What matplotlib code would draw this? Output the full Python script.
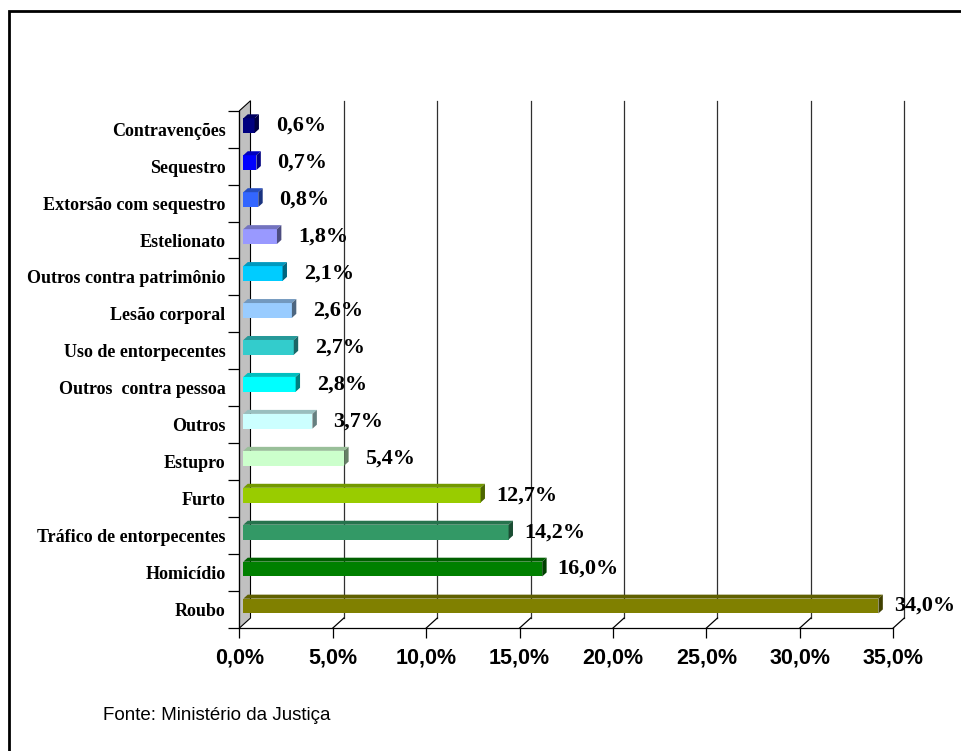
import numpy as np
import matplotlib.pyplot as plt
from matplotlib.patches import Polygon, Rectangle
from matplotlib.colors import to_rgb

# dados (de baixo para cima)
categorias = ['Roubo', 'Homicídio', 'Tráfico de entorpecentes', 'Furto', 'Estupro',
              'Outros', 'Outros  contra pessoa', 'Uso de entorpecentes', 'Lesão corporal',
              'Outros contra patrimônio', 'Estelionato', 'Extorsão com sequestro',
              'Sequestro', 'Contravenções']
valores = [34.0, 16.0, 14.2, 12.7, 5.4, 3.7, 2.8, 2.7, 2.6, 2.1, 1.8, 0.8, 0.7, 0.6]
cores = ['#808000', '#008000', '#339966', '#99CC00', '#CCFFCC', '#CCFFFF', '#00FFFF',
         '#33CCCC', '#99CCFF', '#00CCFF', '#9999FF', '#3366FF', '#0000FF', '#000080']
ticks_x = np.arange(0, 36, 5)
fonte = 'Fonte: Ministério da Justiça'

# profundidade 3D (em unidades dos dados)
DX, DY = 0.59, 0.27
F1, F2 = 0.35, 0.75
ALT = 0.40

def escurece(c, f):
    r, g, b = to_rgb(c)
    return (r * f, g * f, b * f)

fig = plt.figure(figsize=(9.61, 7.51), dpi=100)
ax = fig.add_axes([0.2492, 0.1638, 0.6803, 0.6888])
n = len(categorias)
ax.set_xlim(0, 35)
ax.set_ylim(-0.5, n - 0.5)

# moldura externa
fig.patches.append(Rectangle((9 / 961, -0.1), 1.2, 1 - 11 / 751 + 0.1, transform=fig.transFigure,
                             fill=False, edgecolor='black', linewidth=2))

# parede lateral
y0, y1 = -0.5, n - 0.5
ax.add_patch(Polygon([(0, y0), (DX, y0 + DY), (DX, y1 + DY), (0, y1)], closed=True,
                     facecolor='#c0c0c0', edgecolor='black', linewidth=0.8,
                     clip_on=False, zorder=1))

# grade do fundo e do chao
for v in ticks_x[1:]:
    ax.plot([v + DX, v + DX], [y0 + DY, y1 + DY], color='#303030', lw=0.9,
            clip_on=False, zorder=1)
    ax.plot([v, v + DX], [y0, y0 + DY], color='black', lw=0.9, clip_on=False, zorder=1)

# barras com faces superior e lateral
for i, (v, c) in enumerate(zip(valores, cores)):
    xa = F1 * DX
    ya = i + F1 * DY - ALT / 2
    ddx, ddy = (F2 - F1) * DX, (F2 - F1) * DY
    ax.add_patch(Rectangle((xa, ya), v, ALT, facecolor=c, edgecolor='none',
                           clip_on=False, zorder=3))
    ax.add_patch(Polygon([(xa, ya + ALT), (xa + v, ya + ALT), (xa + v + ddx, ya + ALT + ddy),
                          (xa + ddx, ya + ALT + ddy)], closed=True,
                         facecolor=escurece(c, 0.75), edgecolor='none', clip_on=False, zorder=3))
    ax.add_patch(Polygon([(xa + v, ya), (xa + v, ya + ALT), (xa + v + ddx, ya + ALT + ddy),
                          (xa + v + ddx, ya + ddy)], closed=True,
                         facecolor=escurece(c, 0.5), edgecolor='none', clip_on=False, zorder=3))
    rotulo = f'{v:.1f}%'.replace('.', ',')
    ax.annotate(rotulo, xy=(v, i + F1 * DY), xytext=(36, 0), textcoords='offset points',
                ha='center', va='center', fontsize=16, fontweight='bold',
                family='Liberation Serif', annotation_clip=False, zorder=4)

# eixos
for s in ['top', 'right']:
    ax.spines[s].set_visible(False)
ax.spines['bottom'].set_linewidth(0.9)
ax.spines['left'].set_linewidth(0.9)
ax.set_xticks(ticks_x)
ax.set_xticklabels([f'{t:.1f}%'.replace('.', ',') for t in ticks_x],
                   fontsize=15.5, fontweight='bold', family='Liberation Sans')
ax.tick_params(axis='x', direction='out', length=7.2, width=0.9, pad=7)
ax.set_yticks(np.arange(n + 1) - 0.5)
ax.set_yticklabels([])
ax.tick_params(axis='y', which='major', direction='out', length=8, width=0.9)
ax.set_yticks(np.arange(n), minor=True)
ax.set_yticklabels(categorias, minor=True, fontsize=13, fontweight='bold',
                   family='Liberation Serif')
ax.tick_params(axis='y', which='minor', length=0, pad=10)
ax.set_facecolor('none')

fig.text(103 / 961, 1 - 716 / 751, fonte, fontsize=13.5, family='Liberation Sans',
         ha='left', va='center')

fig.savefig('out.png', dpi=100)
